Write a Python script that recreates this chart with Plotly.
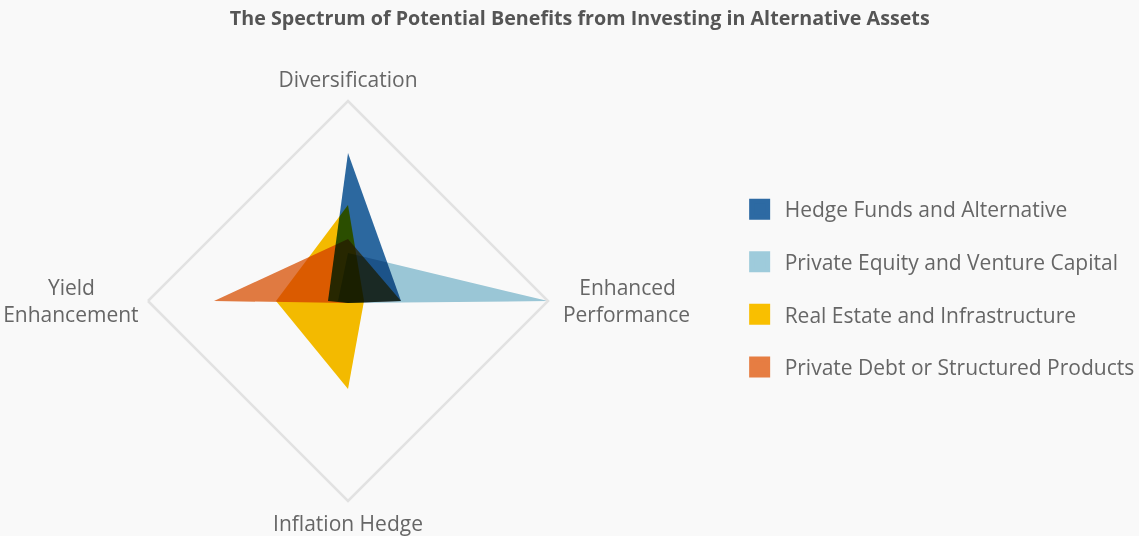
import plotly.graph_objects as go

categories = ["Diversification",
              "&nbsp;&nbsp;&nbsp;&nbsp;Enhanced<br>&nbsp;Performance",
              "Inflation Hedge",
              "Yield&nbsp;&nbsp;&nbsp;&nbsp;&nbsp;&nbsp;&nbsp;&nbsp;<br>Enhancement"]
series_names = [
    "Hedge Funds and Alternative",
    "Private Equity and Venture Capital",
    "Real Estate and Infrastructure",
    "Private Debt or Structured Products",
]
hedge_funds = [0.74, 0.265, 0.01, 0.10]
private_equity = [0.24, 1.0, 0.01, 0.05]
real_estate = [0.48, 0.08, 0.44, 0.36]
private_debt = [0.31, 0.265, 0.01, 0.67]
colors = ["#2D6AA3", "#9ECBDB", "#F9BF00", "#E67D42"]

values = [hedge_funds, private_equity, real_estate, private_debt]

fig = go.Figure()
for name, vals, col in zip(series_names, values, colors):
    fig.add_trace(go.Scatterpolar(
        r=vals + [vals[0]],
        theta=categories + [categories[0]],
        fill="toself",
        fillcolor=col,
        mode="none",
        line=dict(width=0),
        name=name,
        showlegend=False,
        hoverinfo="skip",
    ))

for i, (name, col) in enumerate(zip(series_names, colors)):
    fig.add_trace(go.Scatterpolar(
        r=[None], theta=[categories[0]],
        mode="markers",
        marker=dict(symbol="square", size=25, color=col, line=dict(width=9, color=col)),
        name=name,
        legendgroup=f"g{i}",
        showlegend=True,
    ))

FONT = "Open Sans, sans-serif"
fig.update_layout(
    width=1139, height=536,
    paper_bgcolor="#f9f9f9",
    plot_bgcolor="#f9f9f9",
    font=dict(family=FONT, color="#666666", size=21),
    title=dict(
        text="<b>The Spectrum of Potential Benefits from Investing in Alternative Assets</b>",
        x=0.509, xanchor="center", y=0.966, yanchor="middle",
        font=dict(size=19.7, color="#555555", family=FONT),
    ),
    margin=dict(l=0, r=0, t=101, b=35, autoexpand=False),
    polar=dict(
        domain=dict(x=[148 / 1139, 548 / 1139], y=[0, 1]),
        bgcolor="rgba(0,0,0,0)",
        gridshape="linear",
        radialaxis=dict(range=[0, 1], visible=False, showgrid=False, showline=False),
        angularaxis=dict(
            rotation=90, direction="clockwise",
            showgrid=False, showline=True, linecolor="#e2e2e2", linewidth=2.5,
            ticks="outside", ticklen=4, tickcolor="rgba(0,0,0,0)",
            tickfont=dict(size=21, color="#666666"),
        ),
    ),
    legend=dict(
        x=0.645, xanchor="left", y=(501 - 288.5) / 400, yanchor="middle",
        traceorder="grouped", tracegroupgap=22.3, itemwidth=40,
        font=dict(size=21, color="#666666"),
        bgcolor="rgba(0,0,0,0)",
    ),
)

post = """
document.body.style.margin='0';
function blend(){
  document.querySelectorAll('.polarlayer .trace').forEach(function(g){
    if(g.hasAttribute('clip-path')){g.removeAttribute('clip-path');}
    g.style.clipPath='none';
    g.style.mixBlendMode='multiply';
  });
  document.querySelectorAll('.polarlayer path.js-fill').forEach(function(p){
    p.style.mixBlendMode='multiply';
  });
}
blend();
setTimeout(blend, 300);
"""
fig.write_html("out.html", post_script=post, config={"displayModeBar": False})
